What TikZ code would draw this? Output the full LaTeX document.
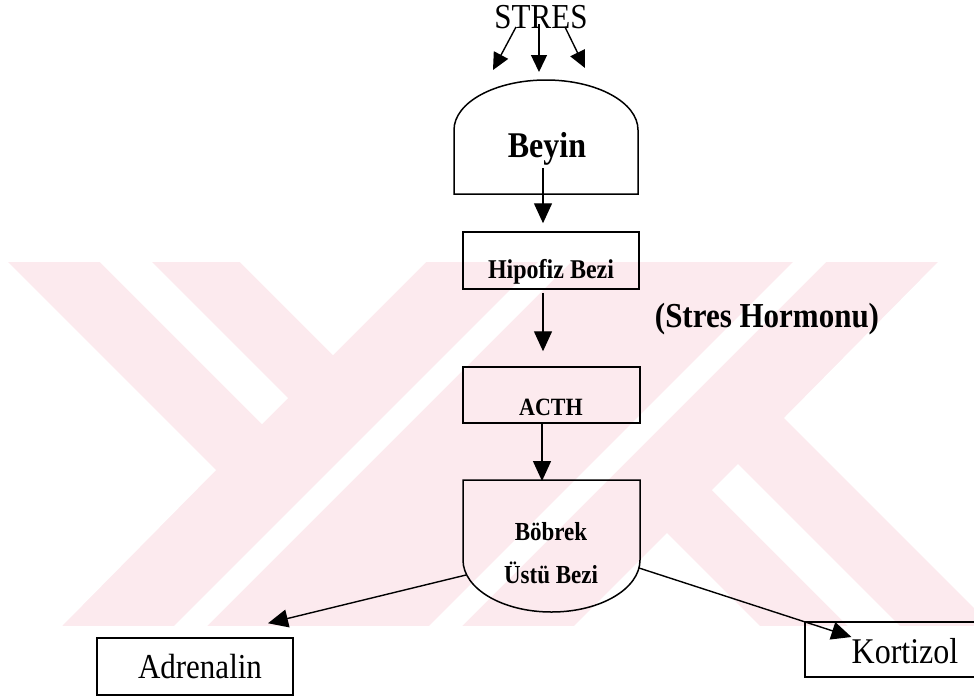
\documentclass[tikz,border=0pt]{standalone}
\usepackage{fontspec}
\usepackage{graphicx}
\setmainfont{Liberation Serif}
\usetikzlibrary{arrows.meta,calc}
\definecolor{wmpink}{RGB}{252,234,238}
% slightly tall lettering
\newcommand{\tall}[1]{\scalebox{1}[1.13]{#1}}
\begin{document}
\begin{tikzpicture}[x=1pt,y=-1pt,
  box/.style={draw=black, line width=1.5pt, inner sep=0pt},
  lbl/.style={inner sep=0pt, text=black},
  shapeline/.style={draw=black, line width=1.5pt},
  arr/.style={draw=black, line width=1.4pt, -{Triangle[length=20pt,width=18pt]}},
  smallarr/.style={draw=black, line width=1.4pt, -{Triangle[length=17pt,width=16pt]}},
]
\useasboundingbox (0,0) rectangle (974,697);
\fill[white] (0,0) rectangle (974,697);

% faint background emblem: a pink band cut by white chevrons and stripes
\fill[wmpink] (0,262) rectangle (974,626);
\begin{scope}[fill=white]
  \fill (0,262) -- (8,262) -- (216,470) -- (62,626) -- (0,626) -- cycle;
  \fill (100,262) -- (152,262) -- (288,398) -- (262,424) -- cycle;
  \fill (240,262) -- (333,355) -- (426,262) -- cycle;
  \fill (538,262) -- (571,262) -- (207,626) -- (174,626) -- cycle;
  \fill (1000,626) -- (992,626) -- (784,418) -- (938,262) -- (1000,262) -- cycle;
  \fill (900,626) -- (848,626) -- (712,490) -- (738,464) -- cycle;
  \fill (760,626) -- (667,533) -- (574,626) -- cycle;
  \fill (462,626) -- (429,626) -- (793,262) -- (826,262) -- cycle;
\end{scope}

% stress input
\node[lbl, font=\fontsize{31}{31}\selectfont] (stres) at (541,17) {\tall{STRES}};
\coordinate (s1) at (516,27);
\coordinate (s2) at (539,24);
\coordinate (s3) at (565,27);
\coordinate (t1) at (493,70);
\coordinate (t2) at (539,72);
\coordinate (t3) at (585,68);
\draw[smallarr] (s1) -- (t1);
\draw[smallarr] (s2) -- (t2);
\draw[smallarr] (s3) -- (t3);

% brain: dome-shaped box
\draw[shapeline] (454,194) -- (454,130)
  .. controls (454,102.4) and (495.2,80) .. (546,80)
  .. controls (596.8,80) and (638,102.4) .. (638,130)
  -- (638,194) -- cycle;
\node[lbl, font=\bfseries\fontsize{32}{32}\selectfont] (beyin) at (547,149) {\tall{Beyin}};
\coordinate (beyinstem) at (543,168);

% pituitary
\node[box, minimum width=176pt, minimum height=57pt] (hip) at (551,260.5) {};
\node[lbl, font=\bfseries\fontsize{24}{24}\selectfont] (hiptxt) at (551,272) {\tall{Hipofiz Bezi}};

% ACTH
\node[box, minimum width=177pt, minimum height=56pt] (acth) at (551.5,395) {};
\node[lbl, font=\bfseries\fontsize{22}{22}\selectfont] (acthtxt) at (551,407) {\tall{ACTH}};

% adrenal gland: box with rounded bottom
\draw[shapeline] (463,480) -- (463,560)
  .. controls (463,588.7) and (502.6,612) .. (551.5,612)
  .. controls (600.4,612) and (640,588.7) .. (640,560)
  -- (640,480) -- cycle;
\coordinate (bobtop) at (551.5,480);
\coordinate (bobleft) at (466,575);
\coordinate (bobright) at (639,568);
\node[lbl, font=\bfseries\fontsize{23}{23}\selectfont] (bob1) at (551,532) {\tall{Böbrek}};
\node[lbl, font=\bfseries\fontsize{23}{23}\selectfont] (bob2) at (551,573) {\tall{Üstü Bezi}};

% stress hormone label
\node[lbl, font=\bfseries\fontsize{31}{31}\selectfont] (hormon) at (767,319) {\tall{(Stres Hormonu)}};

% outputs
\node[box, minimum width=196pt, minimum height=57pt] (adr) at (195,666.5) {};
\node[lbl, font=\fontsize{31}{31}\selectfont] (adrtxt) at (200,667) {\tall{Adrenalin}};
\draw[shapeline] (995,622) -- (805,622) -- (805,677) -- (995,677);
\coordinate (korcorner) at (805,622);
\node[lbl, font=\fontsize{32}{32}\selectfont] (kor) at (905,651) {\tall{Kortizol}};

% connectors
\draw[arr] (beyinstem) -- ($(hip.north)+(-8,-8)$);
\draw[arr] ($(hip.south)+(-8,3)$) -- ($(acth.north)+(-8.5,-15)$);
\draw[arr] ($(acth.south)+(-9.5,0)$) -- ($(bobtop)+(-9.5,1)$);
\draw[arr] (bobleft) -- ($(adr.north)+(73,-14)$);
\draw[arr] (bobright) -- ($(kor.west)+(0,-14)$);
\end{tikzpicture}
\end{document}
